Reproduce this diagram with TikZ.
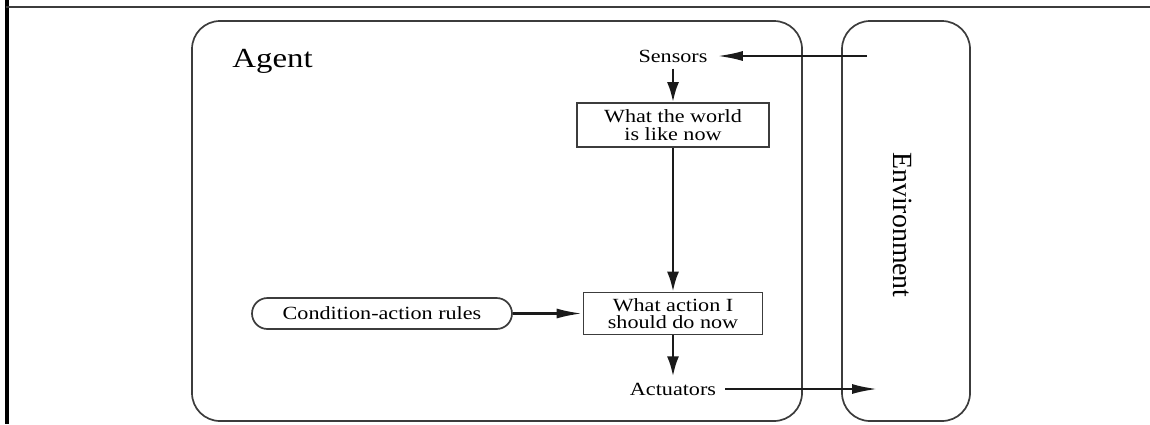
\documentclass[tikz,border=0pt]{standalone}
\usepackage{fontspec}
\setmainfont[FakeStretch=1.19]{Liberation Serif}
\newfontfamily\uprightserif{Liberation Serif}
\usetikzlibrary{arrows.meta}
\definecolor{edge}{HTML}{3C3C3C}
\definecolor{ink}{HTML}{1A1A1A}
\begin{document}
\begin{tikzpicture}[x=0.5pt,y=-0.5pt,
  shell/.style={draw=edge, line width=0.85pt, rounded corners=14pt},
  procbox/.style={draw=edge, line width=0.85pt, inner sep=0pt, align=center,
    font=\fontsize{9.3}{8.7}\selectfont},
  rulebox/.style={draw=edge, line width=0.85pt, inner sep=0pt, rounded corners=7.75pt,
    minimum width=130pt, minimum height=15.5pt, font=\fontsize{9.3}{11}\selectfont},
  tag/.style={inner xsep=4.5pt, inner ysep=3pt, font=\fontsize{9.3}{11}\selectfont},
  flow/.style={draw=ink, line width=1.35pt, -{Latex[length=10pt,width=6pt]}},
  hflow/.style={draw=ink, line width=1.35pt, -{Latex[length=13pt,width=5pt]}},
]
\useasboundingbox (0,0) rectangle (1150,424);
\fill[white] (0,0) rectangle (1150,424);

% page frame
\draw[line width=2pt, black] (7,0) -- (7,424);
\draw[line width=1.2pt, edge] (6,7) -- (1150,7);

% agent and environment outlines
\draw[shell] (192,21) rectangle (802,421);
\draw[shell] (842,21) rectangle (970,421);

% labels and boxes
\node[font=\fontsize{13.8}{16}\selectfont, anchor=base west, inner sep=0pt] (agent) at (232,67) {Agent};
\node[rotate=-90, inner sep=0pt, font=\uprightserif\fontsize{13.9}{16}\selectfont] (env) at (903,225) {Environment};
\node[tag] (sensors) at (673,56) {Sensors};
\node[procbox, minimum width=96pt, minimum height=22pt] (world) at (673,125) {What the world\\is like now};
\node[procbox, minimum width=89.5pt, minimum height=21pt] (action) at (673,313.5) {What action I\\should do now};
\node[rulebox] (rules) at (382,313.5) {Condition-action rules};
\node[tag] (act) at (673,389) {Actuators};

\coordinate (percept) at (867,56);
\coordinate (effect) at (878,389);

% connectors
\draw[hflow] (percept) -- (sensors.east);
\draw[flow] (sensors.south) -- (world.north);
\draw[flow] (world.south) -- (action.north);
\draw[hflow] (rules.east) -- (action.west);
\draw[flow] (action.south) -- (act.north);
\draw[hflow] (act.east) -- (effect);
\end{tikzpicture}
\end{document}
